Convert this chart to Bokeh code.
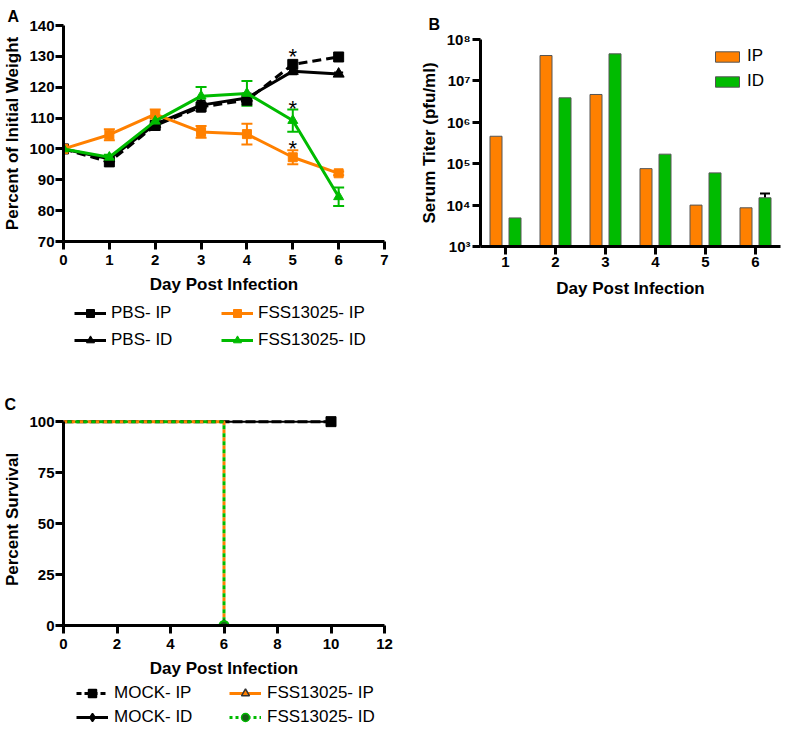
from bokeh.plotting import figure
from bokeh.models import (Whisker, TeeHead, ColumnDataSource, Legend, LegendItem,
                          FixedTicker, Range1d)
from bokeh.layouts import column, row
from bokeh.transform import dodge
from bokeh.embed import file_html
from bokeh.resources import INLINE
from bokeh.core.properties import value

ORANGE = "#FF8000"
GREEN = "#00BB00"
FONT = "Liberation Sans"

# ---------------- Panel A data ----------------
days_a = [0, 1, 2, 3, 4, 5, 6]
pbs_ip = [100, 95.8, 107.6, 113.6, 115.8, 127.4, 129.8]
pbs_ip_err = [0.3, 0.8, 1.0, 1.5, 1.5, 1.0, 0.5]
pbs_id = [100, 96.8, 108.0, 114.2, 116.5, 125.2, 124.3]
pbs_id_err = [0.3, 0.8, 1.0, 1.5, 1.5, 1.0, 0.5]
fss_ip = [100, 104.6, 111.3, 105.5, 104.8, 97.3, 92.1]
fss_ip_err = [0.5, 1.8, 1.5, 1.9, 3.4, 2.3, 0.6]
fss_id = [100, 97.3, 109.0, 117.1, 118.0, 109.2, 84.5]
fss_id_err = [0.5, 0.8, 1.0, 3.0, 4.0, 3.6, 3.0]
star_days = [5, 5, 5]
star_vals = [131.3, 114.4, 101.4]
star_text = ["*", "*", "*"]

# ---------------- Panel B data ----------------
days_b = [1, 2, 3, 4, 5, 6]
ip_titer = [4.6e5, 4.1e7, 4.7e6, 7.6e4, 1.0e4, 8.6e3]
id_titer = [4.9e3, 3.9e6, 4.5e7, 1.7e5, 6.0e4, 1.5e4]
id_err_day = [6]
id_err_low = [1.5e4]
id_err_high = [1.9e4]
log_ticks = [1e3, 1e4, 1e5, 1e6, 1e7, 1e8]
log_tick_labels = ["10³", "10⁴", "10⁵", "10⁶", "10⁷", "10⁸"]

# ---------------- Panel C data ----------------
mock_ip_x = [0, 10]
mock_ip_y = [100, 100]
mock_id_x = [0, 10]
mock_id_y = [100, 100]
fss_ip_sx = [0, 6, 6]
fss_ip_sy = [100, 100, 0]
fss_id_sx = [0, 6, 6]
fss_id_sy = [100, 100, 0]

legend_a_labels = ["PBS- IP", "PBS- ID", "FSS13025- IP", "FSS13025- ID"]
legend_c_labels = ["MOCK- IP", "MOCK- ID", "FSS13025- IP", "FSS13025- ID"]


def style(p, tick_size="15px", lab_size="17px"):
    p.xgrid.visible = False
    p.ygrid.visible = False
    p.outline_line_color = None
    p.background_fill_color = "white"
    p.border_fill_color = "white"
    for ax in p.axis:
        ax.axis_line_width = 3
        ax.axis_line_color = "black"
        ax.major_tick_line_width = 3
        ax.major_tick_line_color = "black"
        ax.major_tick_out = 8
        ax.major_tick_in = 0
        ax.minor_tick_line_color = None
        ax.major_label_text_font = FONT
        ax.major_label_text_font_style = "bold"
        ax.major_label_text_font_size = tick_size
        ax.major_label_text_color = "black"
        ax.axis_label_text_font = FONT
        ax.axis_label_text_font_style = "bold"
        ax.axis_label_text_font_size = lab_size
        ax.axis_label_text_color = "black"
    p.xaxis.major_label_standoff = 5
    p.xaxis.axis_label_standoff = 7
    p.yaxis.major_label_standoff = 1
    p.yaxis.axis_label_standoff = 4


def panel_title(p, text, offset, standoff):
    p.title.text = text
    p.title.align = "left"
    p.title.offset = offset
    p.title.standoff = standoff
    p.title.text_font = FONT
    p.title.text_font_style = "bold"
    p.title.text_font_size = "16px"
    p.title.text_color = "black"


def err_source(xs, ys, es):
    return ColumnDataSource(dict(x=xs, upper=[y + e for y, e in zip(ys, es)],
                                 lower=[y - e for y, e in zip(ys, es)]))


def add_whisker(p, xs, ys, es, color, size=11):
    w = Whisker(source=err_source(xs, ys, es), base="x", upper="upper", lower="lower",
                line_color=color, line_width=2,
                upper_head=TeeHead(size=size, line_color=color, line_width=2),
                lower_head=TeeHead(size=size, line_color=color, line_width=2))
    p.add_layout(w)


def legend_fig(width, height, left, right):
    f = figure(width=width, height=height, x_range=Range1d(0, 1), y_range=Range1d(0, 1),
               output_backend="svg", toolbar_location=None,
               min_border_left=left, min_border_right=right, min_border_top=0, min_border_bottom=0,
               x_axis_location=None, y_axis_location=None)
    f.xgrid.visible = False
    f.ygrid.visible = False
    f.outline_line_color = None
    return f


def make_legend(items, loc, spacing, label_width, standoff):
    return Legend(items=items, ncols=2, location=loc, margin=0, padding=0, spacing=spacing,
                  glyph_width=32, glyph_height=20, label_height=20, label_width=label_width,
                  label_standoff=standoff, label_text_font=FONT, label_text_font_size="17px",
                  label_text_color="black",
                  border_line_color=None, background_fill_alpha=0)


# hidden positions (outside the legend strips' ranges) for legend sample renderers
HID_X = [-5, -4]
HID_Y = [-5, -5]

# ======================= Panel A =======================
pA = figure(width=396, height=299, x_range=Range1d(0, 7), y_range=Range1d(70, 140),
            output_backend="svg", toolbar_location=None,
            min_border_left=59, min_border_right=12, min_border_top=25, min_border_bottom=58)
style(pA)
panel_title(pA, "A", -56, 1)
pA.xaxis.ticker = FixedTicker(ticks=[0, 1, 2, 3, 4, 5, 6, 7])
pA.yaxis.ticker = FixedTicker(ticks=[70, 80, 90, 100, 110, 120, 130, 140])
pA.xaxis.axis_label = "Day Post Infection"
pA.yaxis.axis_label = "Percent of Initial Weight"

add_whisker(pA, days_a, pbs_ip, pbs_ip_err, "black", 9)
add_whisker(pA, days_a, pbs_id, pbs_id_err, "black", 9)
pA.line(days_a, pbs_ip, line_color="black", line_width=3, line_dash="9 5")
pA.scatter(days_a, pbs_ip, marker="square", size=10, color="black")
pA.line(days_a, pbs_id, line_color="black", line_width=3)
pA.scatter(days_a, pbs_id, marker="triangle", size=11, color="black")
add_whisker(pA, days_a, fss_ip, fss_ip_err, ORANGE)
pA.line(days_a, fss_ip, line_color=ORANGE, line_width=3)
pA.scatter(days_a, fss_ip, marker="square", size=9, color=ORANGE)
add_whisker(pA, days_a, fss_id, fss_id_err, GREEN)
pA.line(days_a, fss_id, line_color=GREEN, line_width=3)
pA.scatter(days_a, fss_id, marker="triangle", size=10, color=GREEN)
pA.text(star_days, star_vals, text=star_text, text_font=value(FONT), text_font_size="22px",
        text_align="center", text_baseline="middle", text_color="black", y_offset=4)

# legend for A (separate strip below the panel)
lfA = legend_fig(396, 54, 59, 12)
la_items = []
for lab, col, mk, ms in zip(legend_a_labels, ["black", "black", ORANGE, GREEN],
                            ["square", "triangle", "square", "triangle"], [9, 10, 9, 10]):
    lr = lfA.line(HID_X, HID_Y, line_color=col, line_width=3)
    sr = lfA.scatter(HID_X[:1], HID_Y[:1], marker=mk, size=ms, color=col)
    la_items.append(LegendItem(label=lab, renderers=[lr, sr]))
lfA.add_layout(make_legend(la_items, (11, 3), 7, 103, 5))

# ======================= Panel B =======================
pB = figure(width=386, height=353, x_range=Range1d(0.5, 6.5), y_range=Range1d(1e3, 1e8),
            y_axis_type="log", output_backend="svg", toolbar_location=None,
            min_border_left=84, min_border_right=2, min_border_top=39, min_border_bottom=107)
style(pB)
panel_title(pB, "B", -52, 14)
pB.xaxis.ticker = FixedTicker(ticks=days_b)
pB.yaxis.ticker = FixedTicker(ticks=log_ticks)
pB.yaxis.major_label_overrides = {t: s for t, s in zip(log_ticks, log_tick_labels)}
pB.xaxis.axis_label = "Day Post Infection"
pB.yaxis.axis_label = "Serum Titer (pfu/ml)"
pB.yaxis.major_label_standoff = 2
pB.xaxis.major_label_standoff = 2
pB.xaxis.axis_label_standoff = 9

srcB = ColumnDataSource(dict(day=days_b, ip=ip_titer, idv=id_titer))
bIP = pB.vbar(x=dodge("day", -0.19), top="ip", bottom=1e3, width=0.24, source=srcB,
              fill_color=ORANGE, line_color="#555555", line_width=1)
bID = pB.vbar(x=dodge("day", 0.19), top="idv", bottom=1e3, width=0.24, source=srcB,
              fill_color=GREEN, line_color="#555555", line_width=1)
wB = Whisker(source=ColumnDataSource(dict(x=[d + 0.19 for d in id_err_day], upper=id_err_high,
                                          lower=id_err_low)),
             base="x", upper="upper", lower="lower", line_color="black", line_width=2,
             upper_head=TeeHead(size=10, line_color="black", line_width=2), lower_head=None)
pB.add_layout(wB)
legB = Legend(items=[LegendItem(label="IP", renderers=[bIP]), LegendItem(label="ID", renderers=[bID])],
              location=(232, 155), margin=0, padding=0, spacing=5,
              glyph_width=30, glyph_height=13, label_height=20, label_standoff=5,
              label_text_font=FONT, label_text_font_size="17px", label_text_color="black",
              border_line_color=None, background_fill_alpha=0)
pB.add_layout(legB)

# ======================= Panel C =======================
pC = figure(width=396, height=328, x_range=Range1d(0, 12), y_range=Range1d(0, 104),
            output_backend="svg", toolbar_location=None,
            min_border_left=59, min_border_right=12, min_border_top=60, min_border_bottom=56)
style(pC)
panel_title(pC, "C", -59, 2)
pC.xaxis.ticker = FixedTicker(ticks=[0, 2, 4, 6, 8, 10, 12])
pC.yaxis.ticker = FixedTicker(ticks=[0, 25, 50, 75, 100])
pC.yaxis.bounds = (0, 100)
pC.xaxis.axis_label = "Day Post Infection"
pC.yaxis.axis_label = "Percent Survival"

pC.line(mock_id_x, mock_id_y, line_color="black", line_width=2)
pC.scatter(mock_id_x[-1:], mock_id_y[-1:], marker="diamond", size=8, color="black")
pC.line(mock_ip_x, mock_ip_y, line_color="black", line_width=3, line_dash="10 3")
pC.scatter(mock_ip_x[-1:], mock_ip_y[-1:], marker="square", size=10, color="black")
pC.line(fss_ip_sx, fss_ip_sy, line_color=ORANGE, line_width=3, line_dash="4 4")
pC.line(fss_id_sx, fss_id_sy, line_color=GREEN, line_width=3, line_dash="4 4",
        line_dash_offset=4)
pC.scatter(fss_ip_sx[-1:], fss_ip_sy[-1:], marker="triangle", size=10,
           fill_color=ORANGE, line_color="#333333", line_width=1.5)
pC.scatter(fss_id_sx[-1:], fss_id_sy[-1:], marker="circle", size=9,
           fill_color="#1a5e1a", line_color=GREEN, line_width=2)

# legend for C
lfC = legend_fig(396, 47, 59, 12)
lc_specs = [("black", "5 3", "square", 9, "black", "black"),
            ("black", "solid", "diamond", 8, "black", "black"),
            (ORANGE, "solid", "triangle", 10, ORANGE, "#333333"),
            (GREEN, "3 3", "circle", 8, "#1a5e1a", GREEN)]
lc_items = []
for lab, (col, dash, mk, ms, fc, lc) in zip(legend_c_labels, lc_specs):
    lr = lfC.line(HID_X, HID_Y, line_color=col, line_width=3, line_dash=dash)
    sr = lfC.scatter(HID_X[:1], HID_Y[:1], marker=mk, size=ms, fill_color=fc, line_color=lc,
                     line_width=1.5)
    lc_items.append(LegendItem(label=lab, renderers=[lr, sr]))
lfC.add_layout(make_legend(lc_items, (13, 1), 4, 111, 6))

layout = column(row(column(pA, lfA), pB), column(pC, lfC))
open("out.html", "w").write(file_html(layout, INLINE))
